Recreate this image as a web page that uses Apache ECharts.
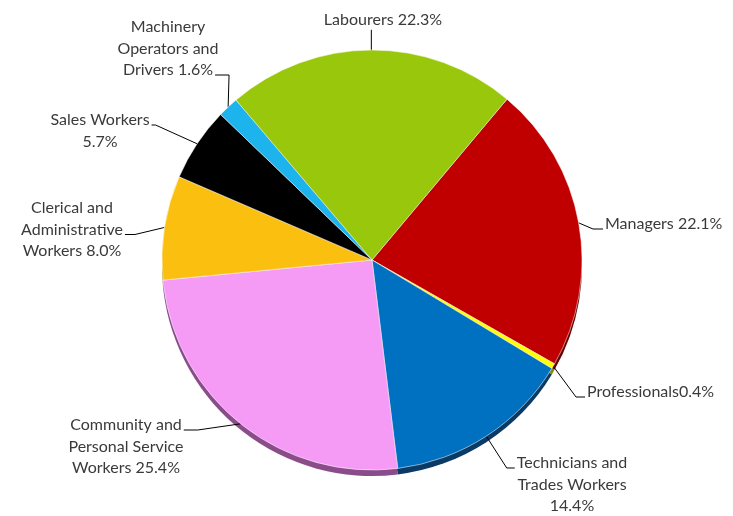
<!DOCTYPE html>
<html>
<head>
<meta charset="utf-8">
<title>Employment by occupation</title>
<script src="https://cdn.jsdelivr.net/npm/echarts@6/dist/echarts.min.js"></script>
<style>
  html, body { margin: 0; padding: 0; background: #ffffff; }
  #chart { width: 733px; height: 516px; }
</style>
</head>
<body>
<div id="chart"></div>
<script>
// Occupation groups, clockwise from Managers
const categories = [
  'Managers',
  'Professionals',
  'Technicians and Trades Workers',
  'Community and Personal Service Workers',
  'Clerical and Administrative Workers',
  'Sales Workers',
  'Machinery Operators and Drivers',
  'Labourers'
];

// Share of employment (%)
const shares = [22.1, 0.4, 14.4, 25.4, 8.0, 5.7, 1.6, 22.3];

// Label text, wrapped the way it is printed; {v} is replaced by the share
const labelTemplates = [
  'Managers {v}',
  'Professionals{v}',
  'Technicians and\nTrades Workers\n{v}',
  'Community and\nPersonal Service\nWorkers {v}',
  'Clerical and\nAdministrative\nWorkers {v}',
  'Sales Workers\n{v}',
  'Machinery\nOperators and\nDrivers {v}',
  'Labourers {v}'
];

// Slice fills and the darker tones used for the pie's lower rim
const sliceColors = ['#c00000', '#ffff00', '#0070c0', '#f59bf5', '#fbbf0f', '#000000', '#1db4ee', '#99c70c'];
const rimColors   = ['#6a0000', '#8a8a00', '#0a3a66', '#8a4d8a', '#8a6a08', '#000000', '#0e5f80', '#557008'];

// Where each label block sits (first-line centre y) and where its leader joins it
const labelSpots = [
  { x: 605, y: 224, align: 'left',   hook: 'left',   line: 0, stub: 10 },
  { x: 587, y: 392, align: 'left',   hook: 'left',   line: 0, stub: 9 },
  { x: 572, y: 463, align: 'center', hook: 'left',   line: 0, stub: 8 },
  { x: 126, y: 425, align: 'center', hook: 'right',  line: 0, stub: 14 },
  { x: 72,  y: 208, align: 'center', hook: 'right',  line: 1, stub: 10 },
  { x: 100, y: 120, align: 'center', hook: 'right',  line: 0, stub: 4 },
  { x: 168, y: 27,  align: 'center', hook: 'right',  line: 2, stub: 14 },
  { x: 383, y: 20,  align: 'center', hook: 'bottom', line: 0, stub: 0 }
];

const FONT_FAMILY = 'Lato';
const FONT_SIZE = 16;
const LINE_H = 21.5;
const TEXT_COLOR = '#3a3a3a';

const PIE_CENTER = [372, 260];
const PIE_RADIUS = 210;
const RIM_DEPTH = 6;

function labelText(i) {
  return labelTemplates[i].replace('{v}', shares[i].toFixed(1) + '%');
}

const measureCtx = document.createElement('canvas').getContext('2d');
measureCtx.font = FONT_SIZE + 'px ' + FONT_FAMILY;
function textWidth(s) {
  return measureCtx.measureText(s).width;
}

const pieData = categories.map((name, i) => ({
  name: name,
  value: shares[i],
  itemStyle: { color: sliceColors[i] }
}));

const rimData = categories.map((name, i) => ({
  name: name,
  value: shares[i],
  itemStyle: { color: rimColors[i] }
}));

const chart = echarts.init(document.getElementById('chart'), null, { renderer: 'canvas' });

chart.setOption({
  animation: false,
  backgroundColor: '#ffffff',
  series: [
    {
      // lower rim giving the pie its depth
      type: 'pie',
      silent: true,
      z: 1,
      center: [PIE_CENTER[0], PIE_CENTER[1] + RIM_DEPTH],
      radius: PIE_RADIUS,
      startAngle: 50,
      clockwise: true,
      label: { show: false },
      labelLine: { show: false },
      data: rimData
    },
    {
      type: 'pie',
      z: 2,
      center: PIE_CENTER,
      radius: PIE_RADIUS,
      startAngle: 50,
      clockwise: true,
      avoidLabelOverlap: false,
      itemStyle: { borderColor: 'rgba(255,255,255,0.65)', borderWidth: 0.8 },
      emphasis: { disabled: true },
      label: {
        show: true,
        position: 'outside',
        formatter: (p) => labelText(p.dataIndex),
        fontFamily: FONT_FAMILY,
        fontSize: FONT_SIZE,
        lineHeight: LINE_H,
        color: TEXT_COLOR
      },
      labelLine: {
        show: true,
        length: 12,
        length2: 8,
        lineStyle: { color: '#000000', width: 1 }
      },
      labelLayout: function (p) {
        const i = p.dataIndex;
        const s = labelSpots[i];
        const lines = labelText(i).split('\n');
        const top = s.y - LINE_H / 2;
        const edge = p.labelLinePoints ? p.labelLinePoints[0] : null;
        const out = { x: s.x, y: top, align: s.align, verticalAlign: 'top' };
        if (edge) {
          const w = textWidth(lines[s.line]);
          const left = s.align === 'left' ? s.x : s.x - w / 2;
          const right = left + w;
          const joinY = top + s.line * LINE_H + LINE_H / 2 + 5;
          if (s.hook === 'left') {
            out.labelLinePoints = [edge, [left - 2 - s.stub, joinY], [left - 2, joinY]];
          } else if (s.hook === 'right') {
            out.labelLinePoints = [edge, [right + 2 + s.stub, joinY], [right + 2, joinY]];
          } else {
            const bottom = top + lines.length * LINE_H - 1;
            out.labelLinePoints = [edge, [edge[0], bottom], [edge[0], bottom]];
          }
        }
        return out;
      },
      data: pieData
    }
  ]
});
</script>
</body>
</html>
